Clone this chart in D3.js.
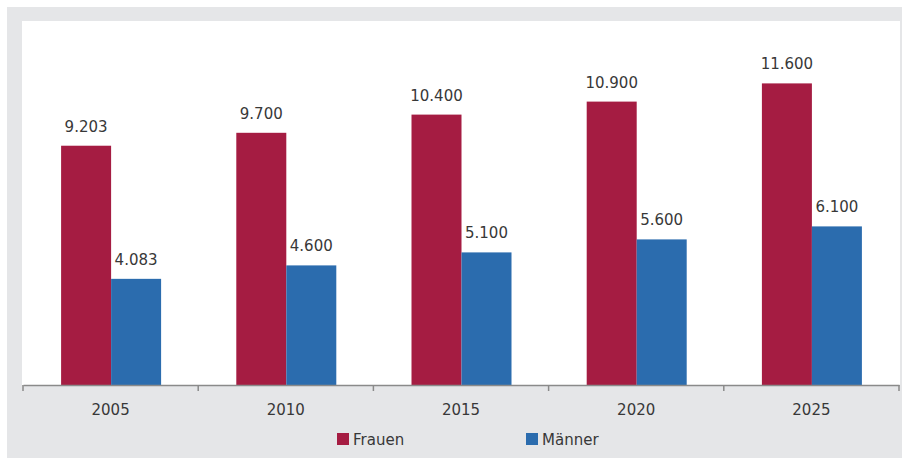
<!DOCTYPE html>
<html>
<head>
<meta charset="utf-8">
<script src="https://cdn.jsdelivr.net/npm/d3@7"></script>
<style>
  html, body { margin: 0; padding: 0; background: #ffffff; }
  svg { display: block; font-family: "DejaVu Sans", sans-serif; }
</style>
</head>
<body>
<svg id="chart" width="902" height="458"></svg>
<script>
// Data
const years = ["2005", "2010", "2015", "2020", "2025"];
const seriesNames = ["Frauen", "Männer"];
const frauen = [9203, 9700, 10400, 10900, 11600];
const maenner = [4083, 4600, 5100, 5600, 6100];
const seriesColors = ["#a51c42", "#2b6cae"];

const svg = d3.select("#chart");
const W = 902, H = 458;
const textColor = "#383838";

// Frame: grey card with a white plotting panel
svg.append("rect").attr("x", 7).attr("y", 7).attr("width", W - 7).attr("height", H - 7)
  .attr("fill", "#e5e6e8");
const plot = { left: 22, top: 21, right: 900, bottom: 385 };
svg.append("rect").attr("x", plot.left).attr("y", plot.top)
  .attr("width", plot.right - plot.left).attr("height", plot.bottom - plot.top)
  .attr("fill", "#ffffff");

const x0 = d3.scaleBand().domain(years).range([23, 899]).padding(0);
const x1 = d3.scaleBand().domain(seriesNames)
  .range([x0.bandwidth() / 2 - 49.5, x0.bandwidth() / 2 + 50.5]).padding(0);
const y = d3.scaleLinear().domain([0, 14000]).range([plot.bottom, plot.top]);

const rows = years.map((yr, i) => ({
  year: yr,
  values: [
    { key: "Frauen", value: frauen[i], color: seriesColors[0] },
    { key: "Männer", value: maenner[i], color: seriesColors[1] }
  ]
}));

const fmt = v => d3.format(",.0f")(v).replace(/,/g, ".");

const groups = svg.append("g").selectAll("g").data(rows).join("g")
  .attr("transform", d => `translate(${x0(d.year)},0)`);

groups.selectAll("rect").data(d => d.values).join("rect")
  .attr("x", d => x1(d.key))
  .attr("width", x1.bandwidth())
  .attr("y", d => y(d.value))
  .attr("height", d => y(0) - y(d.value))
  .attr("fill", d => d.color);

groups.selectAll("text.val").data(d => d.values).join("text")
  .attr("class", "val")
  .attr("x", d => x1(d.key) + x1.bandwidth() / 2)
  .attr("y", d => y(d.value) - 14)
  .attr("text-anchor", "middle")
  .attr("font-size", 15)
  .attr("fill", textColor)
  .text(d => fmt(d.value));

// Category axis
const axis = svg.append("g").attr("transform", `translate(0,${plot.bottom})`)
  .call(d3.axisBottom(x0).tickSize(0).tickPadding(19));
axis.select(".domain").attr("stroke", "#8a8a8a").attr("stroke-width", 1.5);
axis.selectAll(".tick text").attr("font-size", 15).attr("fill", textColor)
  .attr("font-family", "DejaVu Sans, sans-serif");

// Boundary ticks between categories
const bounds = years.map(d => x0(d)).concat([x0(years[years.length - 1]) + x0.bandwidth()]);
axis.selectAll("line.sep").data(bounds).join("line")
  .attr("class", "sep")
  .attr("x1", d => d).attr("x2", d => d)
  .attr("y1", 0).attr("y2", 6)
  .attr("stroke", "#8a8a8a").attr("stroke-width", 1.5);

// Legend
const legendX = [337, 526];
const legend = svg.append("g").selectAll("g").data(seriesNames).join("g")
  .attr("transform", (d, i) => `translate(${legendX[i]},433)`);
legend.append("rect").attr("width", 12).attr("height", 12)
  .attr("fill", (d, i) => seriesColors[i]);
legend.append("text").attr("x", 16).attr("y", 11.5)
  .attr("font-size", 15).attr("fill", textColor).text(d => d);
</script>
</body>
</html>
